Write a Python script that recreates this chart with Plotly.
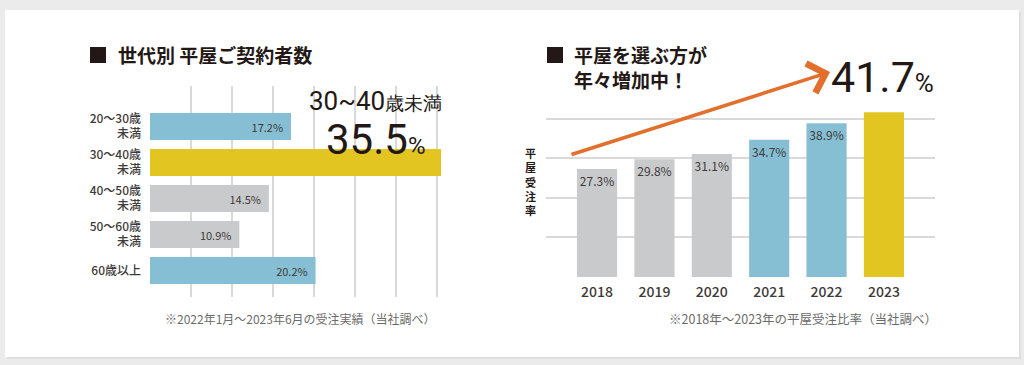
import plotly.graph_objects as go

# ---------------- data ----------------
age_groups = ["20～30歳<br>未満", "30～40歳<br>未満", "40～50歳<br>未満", "50～60歳<br>未満", "60歳以上"]
age_share = [17.2, 35.5, 14.5, 10.9, 20.2]
age_colors = ["#86bfd3", "#e2c521", "#c9cacc", "#c9cacc", "#86bfd3"]
age_highlight = 1

years = ["2018", "2019", "2020", "2021", "2022", "2023"]
year_rate = [27.3, 29.8, 31.1, 34.7, 38.9, 41.7]
year_colors = ["#c9cacc", "#c9cacc", "#c9cacc", "#86bfd3", "#86bfd3", "#e2c521"]
year_highlight = 5

W, H = 1024, 365
TXT = "#3e3a39"
INK = "#231815"
JP = "Noto Sans CJK JP, Noto Sans, sans-serif"
NUM = "Roboto, Noto Sans, sans-serif"


def px(x):
    return x / W


def py(y):
    return 1 - y / H


age_labels = ["" if i == age_highlight else f"{v:.1f}%\u00a0\u00a0" for i, v in enumerate(age_share)]
year_labels = ["" if i == year_highlight else f"{v:.1f}%" for i, v in enumerate(year_rate)]

fig = go.Figure()

fig.add_trace(go.Bar(
    y=age_groups, x=age_share, orientation="h",
    marker=dict(color=age_colors, line=dict(width=0)),
    text=age_labels, textposition="inside", insidetextanchor="end",
    textangle=0, constraintext="none",
    textfont=dict(family=JP, size=11, color=TXT),
    width=0.75, xaxis="x", yaxis="y", hoverinfo="skip",
))

fig.add_trace(go.Bar(
    x=years, y=year_rate,
    marker=dict(color=year_colors, line=dict(width=0)),
    text=year_labels, textposition="inside", insidetextanchor="end",
    textangle=0, constraintext="none",
    textfont=dict(family=JP, size=12, color=TXT),
    width=0.7, xaxis="x2", yaxis="y2", hoverinfo="skip",
))

GRID = "#d9d9d9"
fig.update_layout(
    width=W, height=H,
    margin=dict(l=0, r=0, t=0, b=0),
    paper_bgcolor="#ebebeb", plot_bgcolor="rgba(0,0,0,0)",
    showlegend=False,
    font=dict(family=JP, color=TXT),
    xaxis=dict(domain=[px(150), px(441)], range=[0, 35.5], dtick=5, showgrid=True,
               gridcolor=GRID, gridwidth=1.5, zeroline=False, showticklabels=False,
               showline=False, anchor="y", fixedrange=True),
    yaxis=dict(domain=[py(297), py(86)], range=[4.736, -1.125], showgrid=False,
               zeroline=False, showline=False, ticks="", ticklabelstandoff=8,
               tickfont=dict(family=JP, size=12, color=TXT, weight=500), anchor="x", fixedrange=True),
    xaxis2=dict(domain=[px(546), px(935)], range=[-0.89, 5.89], showgrid=False,
                zeroline=False, showline=False, ticks="", ticklabelstandoff=5,
                tickfont=dict(family=JP, size=14, color=TXT, weight=500), anchor="y2",
                fixedrange=True),
    yaxis2=dict(domain=[py(277), py(111)], range=[0, 42], dtick=10, showgrid=True,
                gridcolor=GRID, gridwidth=1.5, zeroline=False, showticklabels=False,
                showline=False, anchor="x2", fixedrange=True),
    bargap=0.25,
)

# white card
fig.add_shape(type="rect", xref="paper", yref="paper", x0=px(7), x1=px(1021), y0=py(359), y1=py(12),
              fillcolor="#dedede", line=dict(width=0), layer="below")
fig.add_shape(type="rect", xref="paper", yref="paper", x0=px(5), x1=px(1019), y0=py(357), y1=py(10),
              fillcolor="#ffffff", line=dict(width=0), layer="below")

# title squares
for x0 in (90, 547):
    fig.add_shape(type="rect", xref="paper", yref="paper", x0=px(x0), x1=px(x0 + 16),
                  y0=py(63), y1=py(47), fillcolor=INK, line=dict(width=0))

ann = []
ann.append(dict(x=px(116), y=py(55), xanchor="left", yanchor="middle",
                text="世代別 平屋ご契約者数", font=dict(family=JP, size=19, color=INK, weight="bold")))
ann.append(dict(x=px(572), y=py(67), xanchor="left", yanchor="middle", align="left",
                text="平屋を選ぶ方が<br>年々増加中！", font=dict(family=JP, size=19, color=INK, weight="bold")))
# big callouts
ann.append(dict(x=px(444), y=py(101), xanchor="right", yanchor="middle",
                text="<span style='font-size:26px'>30~40</span><span style='font-size:19px'>歳未満</span>",
                font=dict(family=NUM, size=22, color=INK)))
ann.append(dict(x=px(427), y=py(139), xanchor="right", yanchor="middle",
                text="<span style='font-size:42px'>35.5</span><span style='font-size:24px'>%</span>",
                font=dict(family=NUM, size=40, color=INK)))
ann.append(dict(x=px(936), y=py(77), xanchor="right", yanchor="middle",
                text="<span style='font-size:43px'>41.7</span><span style='font-size:26px'>%</span>",
                font=dict(family=NUM, size=43, color=INK)))
# vertical axis label
ann.append(dict(x=px(530), y=py(182), xanchor="center", yanchor="middle",
                text="平<br>屋<br>受<br>注<br>率", font=dict(family=JP, size=11, color=INK, weight="bold")))
# footnotes
ann.append(dict(x=px(163), y=py(318), xanchor="left", yanchor="middle",
                text="※2022年1月～2023年6月の受注実績（当社調べ）", font=dict(family=JP, size=12, color="#6b6b6b")))
ann.append(dict(x=px(667), y=py(318), xanchor="left", yanchor="middle",
                text="※2018年～2023年の平屋受注比率（当社調べ）", font=dict(family=JP, size=12.5, color="#6b6b6b")))
# trend arrow
ann.append(dict(x=px(830), y=py(72), xref="paper", yref="paper", text="", showarrow=True,
                ax=-260, ay=83, arrowcolor="#e26f2b", arrowwidth=3.5, arrowhead=4, arrowsize=1.7))

for a in ann:
    a.setdefault("xref", "paper")
    a.setdefault("yref", "paper")
    a.setdefault("showarrow", False)
    fig.add_annotation(**a)

fig.write_html("out.html", config={"displayModeBar": False},
               post_script="document.body.style.margin='0';document.body.style.overflow='hidden';")
